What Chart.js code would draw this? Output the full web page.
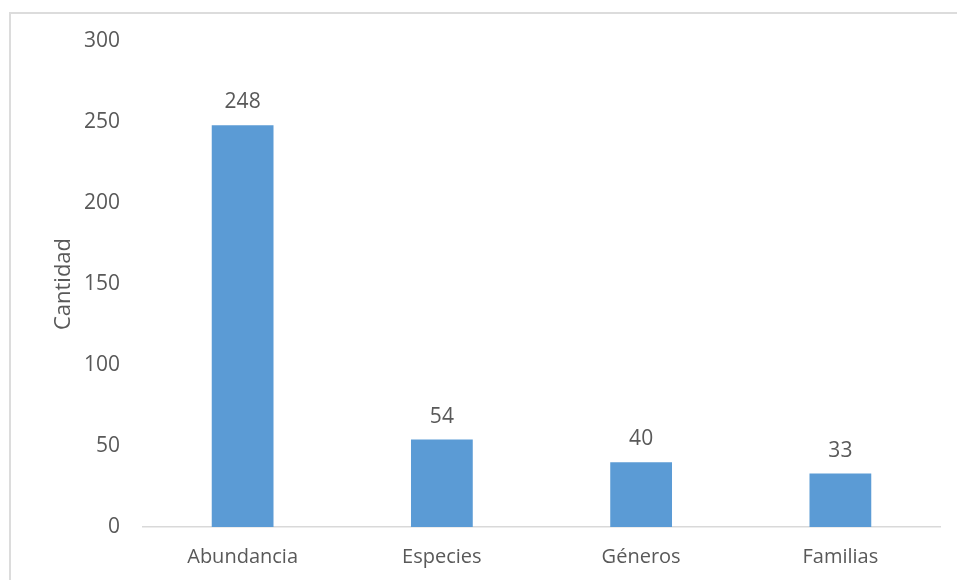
<!DOCTYPE html>
<html>
<head>
<meta charset="utf-8">
<script src="https://cdn.jsdelivr.net/npm/chart.js@4"></script>
<style>
  html, body { margin: 0; padding: 0; background: #fff; overflow: hidden; }
  #wrap { position: relative; width: 957px; height: 580px; }
  #frame { position: absolute; left: 9px; top: 12px; width: 980px; height: 600px; border: 2px solid #DCDCDC; box-sizing: border-box; }
  canvas { position: absolute; left: 0; top: 0; }
</style>
</head>
<body>
<div id="wrap">
  <div id="frame"></div>
  <canvas id="c" width="957" height="580"></canvas>
</div>
<script>
const categories = ["Abundancia", "Especies", "Géneros", "Familias"];
const values = [248, 54, 40, 33];
const yMin = 0, yMax = 300, yStep = 50;
const yTitle = "Cantidad";

const FONT = "'Open Sans', 'DejaVu Sans', sans-serif";
const TEXT = "#595959";

const labelPlugin = {
  id: 'valueLabels',
  afterDatasetsDraw(chart) {
    const ctx = chart.ctx;
    const meta = chart.getDatasetMeta(0);
    ctx.save();
    ctx.font = "21px " + FONT;
    ctx.fillStyle = TEXT;
    ctx.textAlign = "center";
    ctx.textBaseline = "alphabetic";
    meta.data.forEach((bar, i) => {
      ctx.fillText(String(values[i]), bar.x, bar.y - 17);
    });
    ctx.restore();
  }
};

new Chart(document.getElementById('c'), {
  type: 'bar',
  data: {
    labels: categories,
    datasets: [{
      data: values,
      backgroundColor: '#5B9BD5',
      borderWidth: 0,
      barPercentage: 0.31,
      categoryPercentage: 1.0
    }]
  },
  options: {
    responsive: false,
    animation: false,
    layout: { padding: { left: 0, top: 41, right: 17, bottom: 0 } },
    plugins: { legend: { display: false }, tooltip: { enabled: false } },
    scales: {
      x: {
        grid: { display: false, drawTicks: false },
        border: { display: true, color: '#D9D9D9', width: 1.5 },
        ticks: { color: TEXT, font: { family: FONT, size: 20 }, padding: 18 },
        afterFit(scale) { scale.height = 53; }
      },
      y: {
        min: yMin, max: yMax,
        grid: { display: false, drawTicks: false },
        border: { display: false },
        ticks: { stepSize: yStep, color: TEXT, font: { family: FONT, size: 21 }, padding: 23 },
        title: { display: true, text: yTitle, color: TEXT, font: { family: FONT, size: 22 }, padding: { top: 51, bottom: 0 } },
        afterFit(scale) { scale.width = 143; }
      }
    }
  },
  plugins: [labelPlugin]
});
</script>
</body>
</html>
